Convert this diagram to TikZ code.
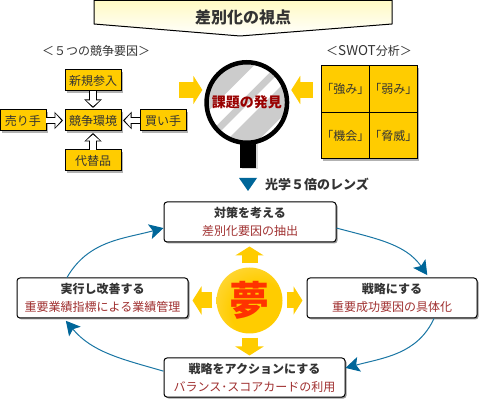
\documentclass[tikz,border=0pt]{standalone}
\usepackage{fontspec}
\usepackage{xcolor}
\setmainfont{Noto Sans CJK JP}
\usetikzlibrary{positioning,arrows.meta,shadows}
\definecolor{boxgold}{RGB}{255,204,0}
\definecolor{inkgray}{RGB}{51,51,51}
\definecolor{lensred}{RGB}{153,0,0}
\definecolor{subred}{RGB}{160,48,48}
\definecolor{loopblue}{RGB}{0,102,153}
\definecolor{dreamred}{RGB}{255,51,0}
\definecolor{bannerpale}{RGB}{255,250,195}
\pgfdeclareradialshading{dreamball}{\pgfpoint{12bp}{-12bp}}{rgb(0bp)=(1,0.8,0); rgb(22bp)=(1,0.8,0); rgb(38bp)=(1,0.85,0.25); rgb(60bp)=(1,0.97,0.8); rgb(70bp)=(1,0.97,0.8)}
\tikzset{
  forcebox/.style = {draw, line width=1pt, outer sep=0pt, fill=boxgold, text=inkgray, inner sep=0pt, minimum height=21pt, font=\fontsize{12}{14}\selectfont,
    drop shadow={shadow xshift=2pt, shadow yshift=-2pt, fill=black!30, opacity=1}},
  swotbox/.style  = {draw, line width=1pt, outer sep=0pt, fill=boxgold, text=inkgray, inner sep=0pt, minimum size=46.5pt, font=\fontsize{12}{14}\selectfont,
    drop shadow={shadow xshift=2pt, shadow yshift=-2pt, fill=black!30, opacity=1}},
  stepbox/.style  = {draw, line width=1pt, rounded corners=3pt, fill=white, text=inkgray, align=center, inner sep=0pt, font=\fontsize{12}{18}\selectfont,
    drop shadow={shadow xshift=1.5pt, shadow yshift=-1.5pt, fill=black!40, opacity=1}},
  heading/.style  = {text=inkgray, inner sep=0pt, font=\fontsize{12}{14}\selectfont},
  goldflow/.style = {draw=boxgold, line width=16pt, -{Triangle[length=9pt, width=28pt]}, shorten >=4pt, shorten <=4pt},
  loopflow/.style = {draw=loopblue!90!white, line width=1pt, -{Stealth[length=14pt, width=15pt, inset=3pt, color=loopblue]}},
  hollowflow/.style = {draw=white, line width=5.5pt, -{Triangle[length=6pt, width=13.5pt]}, shorten >=3.7pt,
    preaction={draw=black, line width=7.5pt, -{Triangle[length=8.5pt, width=17pt]}, shorten >=2pt}},
}
\newcommand{\steptext}[2]{{\bfseries #1}\\{\color{subred}#2}}
\begin{document}
\begin{tikzpicture}[x=1pt, y=1pt, node distance=19pt]
  \useasboundingbox (0,0) rectangle (481,401);
  % banner
  \draw[line width=1pt, top color=bannerpale, bottom color=white] (94,400.5) -- (392,400.5) -- (392,377) -- (240,365) -- (94,377) -- cycle;
  \node[text=inkgray, font=\fontsize{16}{18}\selectfont\bfseries] (title) at (243,384) {差別化の視点};

  % five forces
  \node[heading] (forces) at (96,350) {＜５つの競争要因＞};
  \node[forcebox, minimum width=56pt] (env) at (93,280.5) {競争環境};
  \node[forcebox, minimum width=56pt, above=of env] (entry) {新規参入};
  \node[forcebox, minimum width=56pt, below=of env] (subst) {代替品};
  \node[forcebox, minimum width=46pt, left=of env]  (seller) {売り手};
  \node[forcebox, minimum width=46pt, right=of env] (buyer) {買い手};
  \draw[hollowflow] (entry) -- (env);
  \draw[hollowflow] (subst) -- (env);
  \draw[hollowflow] (seller) -- (env);
  \draw[hollowflow] (buyer) -- (env);

  % swot
  \node[heading] (swot) at (369,350) {＜{\fontsize{13.5}{14}\selectfont SWOT}分析＞};
  \node[swotbox] (strong) at (345.25,311.75) {「強み」};
  \node[swotbox, right=0pt of strong] (weak) {「弱み」};
  \node[swotbox, below=0pt of strong] (chance) {「機会」};
  \node[swotbox, below=0pt of weak]   (threat) {「脅威」};

  % magnifier
  \node[fill=black, inner sep=0pt, minimum width=16pt, minimum height=26pt, drop shadow={shadow xshift=1.5pt, shadow yshift=-1.5pt, fill=black!15, opacity=1}] (handle) at (248,246) {};
  \node[circle, fill=black!20, inner sep=0pt, minimum size=80.5pt, drop shadow={shadow xshift=1.5pt, shadow yshift=-1.5pt, fill=black!15, opacity=1}] (lens) at (246.8,298.5) {};
  \begin{scope}
    \clip (lens.center) circle (40.25pt);
    \foreach \a/\b in {-21/-5, 2/12.5, 35/60}
      \fill[white] ([shift={(\a*0.7071,-\a*0.7071)}]lens.center) ++(-60,-60) -- ++(120,120) -- ++({(\b-\a)*0.7071},{-(\b-\a)*0.7071}) -- ++(-120,-120) -- cycle;
  \end{scope}
  \draw[line width=4.5pt] (lens.center) circle (40.25pt);
  \node[text=lensred, inner sep=0pt, font=\fontsize{14}{16}\selectfont\bfseries] (issue) at (lens.center) {課題の発見};
  \coordinate (leftin) at (175,311);
  \coordinate (rightin) at (317,311);
  \draw[goldflow] (leftin) -- (lens.west |- leftin);
  \draw[goldflow] (rightin) -- (lens.east |- rightin);

  % lens caption
  \fill[loopblue] (239,223) -- (257,223) -- (248,210) -- cycle;
  \node[text=inkgray, anchor=west, inner sep=0pt, font=\fontsize{13}{15}\selectfont\bfseries] (zoomtext) at (265,217) {光学５倍のレンズ};

  % cycle
  \node[stepbox, minimum width=172pt, minimum height=40pt] (plan) at (250,179) {\steptext{対策を考える}{差別化要因の抽出}};
  \node[stepbox, minimum width=170pt, minimum height=40pt] (strategy) at (392,103) {\steptext{戦略にする}{重要成功要因の具体化}};
  \node[stepbox, minimum width=181pt, minimum height=39pt] (action) at (254.5,23.5) {\steptext{戦略をアクションにする}{バランス･スコアカードの利用}};
  \node[stepbox, minimum width=171pt, minimum height=40pt] (improve) at (102.5,103) {\steptext{実行し改善する}{重要業績指標による業績管理}};
  \draw[loopflow] (improve.150.6) to[out=60, in=195] (plan.184);
  \draw[loopflow, shorten >=3pt] (plan.-4.6) to[out=-15, in=125] (strategy.29);
  \draw[loopflow] (strategy.-26.6) to[out=-115, in=15] (action.6);
  \draw[loopflow, shorten >=3pt] (action.176.5) to[out=164, in=-50] (improve.208);

  % dream
  \node[circle, shade, shading=dreamball, inner sep=0pt, minimum size=66pt, text=dreamred, font=\fontsize{40}{40}\selectfont\bfseries] (dream) at (249.5,100.5) {夢};
  \draw[goldflow] (dream.north) -- (dream.north |- plan.south);
  \draw[goldflow, shorten >=2pt] (dream.south) -- (dream.south |- action.north);
  \draw[goldflow] (dream.west) -- (dream.west -| improve.east);
  \draw[goldflow] (dream.east) -- (dream.east -| strategy.west);
\end{tikzpicture}
\end{document}
